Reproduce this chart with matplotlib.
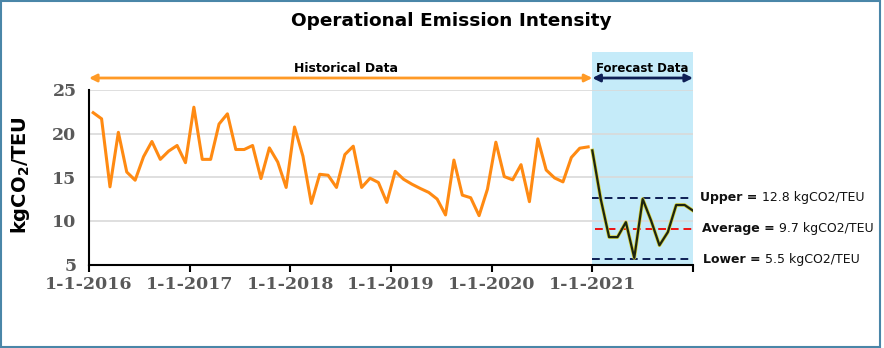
import numpy as np
import matplotlib
matplotlib.use("Agg")
import matplotlib.pyplot as plt
from matplotlib.patches import Rectangle
import matplotlib.transforms as mtransforms

# monthly values
historical = [22.4, 21.7, 13.9, 20.15, 15.6, 14.66, 17.35, 19.1, 17.05, 18.0, 18.64, 16.67,
              23.03, 17.05, 17.05, 21.1, 22.27, 18.18, 18.18, 18.64, 14.85, 18.37, 16.74, 13.83,
              20.76, 17.42, 12.0, 15.34, 15.23, 13.83, 17.6, 18.56, 13.83, 14.89, 14.4, 12.12,
              15.68, 14.77, 14.2, 13.71, 13.26, 12.5, 10.68, 16.97, 12.95, 12.65, 10.6, 13.64,
              19.02, 15.08, 14.7, 16.44, 12.2, 19.4, 15.83, 14.92, 14.47, 17.27, 18.33, 18.48]
forecast = [18.07, 12.5, 8.14, 8.14, 9.85, 5.76, 12.5, 10.04, 7.2, 8.71, 11.82, 11.82, 11.17]
upper_line, avg_line, lower_line = 12.6, 9.1, 5.65
band_labels = [("Upper = ", "12.8 kgCO2/TEU"),
               ("Average = ", "9.7 kgCO2/TEU"),
               ("Lower = ", "5.5 kgCO2/TEU")]
year_ticks = [2016, 2017, 2018, 2019, 2020, 2021, 2022]
year_labels = ["1-1-2016", "1-1-2017", "1-1-2018", "1-1-2019", "1-1-2020", "1-1-2021", ""]
y_ticks = [5, 10, 15, 20, 25]

hx = 2016 + (np.arange(len(historical)) + 0.5) / 12
fx = 2021 + np.arange(len(forecast)) / 12

W, H = 884, 348
fig = plt.figure(figsize=(W / 100, H / 100), dpi=100)
ax = fig.add_axes([89 / W, 1 - 264.5 / H, (693 - 89) / W, (264.5 - 90) / H])

ax.set_xlim(2016, 2022)
ax.set_ylim(5, 25)

# forecast shading, extending above the axes
trans = mtransforms.blended_transform_factory(ax.transData, ax.transAxes)
ax.add_patch(Rectangle((2021, 0), 1, (264.5 - 52) / (264.5 - 90), transform=trans,
                       facecolor="#c5ebf9", edgecolor="none", clip_on=False, zorder=0))

ax.set_yticks(y_ticks)
ax.grid(axis="y", color="#d9d9d9", lw=1.2, zorder=0.5)
ax.set_axisbelow(True)

ax.plot(hx, historical, color="#ff8a12", lw=2.2, zorder=3)
ax.plot(fx, forecast, color="#d8d43c", lw=2.6, zorder=3)
ax.plot(fx, forecast, color="#1c2410", lw=1.6, zorder=4)

ax.plot([2021, 2022], [upper_line] * 2, ls=(0, (4, 2.5)), color="#0e1f55", lw=1.4, zorder=2)
ax.plot([2021.03, 2022], [avg_line] * 2, ls=(0, (4, 2.5)), color="#ee1111", lw=1.4, zorder=2)
ax.plot([2021, 2022], [lower_line] * 2, ls=(0, (4, 2.5)), color="#0e1f55", lw=1.4, zorder=2)

for x, y, (b, n) in zip([2022.07, 2022.09, 2022.1], [12.67, 9.15, 5.6], band_labels):
    t = ax.text(x, y, b, fontsize=9, fontweight="bold", va="center", ha="left",
                color="#111111", family="DejaVu Sans")
    ax.annotate(n, xy=(1, 0.5), xycoords=t, va="center", ha="left", fontsize=9,
                color="#111111", family="DejaVu Sans")

for s in ["top", "right"]:
    ax.spines[s].set_visible(False)
ax.spines["left"].set_linewidth(1.5)
ax.spines["bottom"].set_linewidth(1.5)
ax.tick_params(axis="y", length=0, pad=9)
ax.tick_params(axis="x", length=5, width=1.5, direction="out", pad=3)
ax.set_xticks(year_ticks)
ax.set_xticklabels(year_labels)
for lab in ax.get_xticklabels() + ax.get_yticklabels():
    lab.set_family("DejaVu Serif")
    lab.set_fontweight("bold")
    lab.set_fontsize(12.5)
    lab.set_color("#595959")

ax.set_ylabel("kgCO$_\\mathbf{2}$/TEU", fontsize=14, fontweight="bold")
ax.yaxis.set_label_coords((32 - 89) / (693 - 89), 0.51)

# arrows above the plot
ya = (264.5 - 78) / (264.5 - 90)
ax.annotate("", xy=(2016, ya), xytext=(2021, ya), xycoords=trans, textcoords=trans,
            arrowprops=dict(arrowstyle="<|-|>", color="#ff9a26", lw=2, mutation_scale=11,
                            shrinkA=0, shrinkB=0), annotation_clip=False)
ax.annotate("", xy=(2021, ya), xytext=(2022, ya), xycoords=trans, textcoords=trans,
            arrowprops=dict(arrowstyle="<|-|>", color="#0e1f55", lw=2, mutation_scale=11,
                            shrinkA=0, shrinkB=0), annotation_clip=False)
ax.text(2018.55, (264.5 - 69) / (264.5 - 90), "Historical Data", transform=trans,
        ha="center", va="center", fontsize=9, fontweight="bold")
ax.text(2021.5, (264.5 - 68) / (264.5 - 90), "Forecast Data", transform=trans,
        ha="center", va="center", fontsize=8.5, fontweight="bold")

fig.text(451 / W, 1 - 21 / H, "Operational Emission Intensity", ha="center", va="center",
         fontsize=13.3, fontweight="bold")

# outer frame
fig.patches.append(Rectangle((1 / W, 1 / H), 879 / W, (H - 2) / H, transform=fig.transFigure,
                             fill=False, edgecolor="#4a86a8", lw=1.5))

fig.savefig("out.png", dpi=100)
